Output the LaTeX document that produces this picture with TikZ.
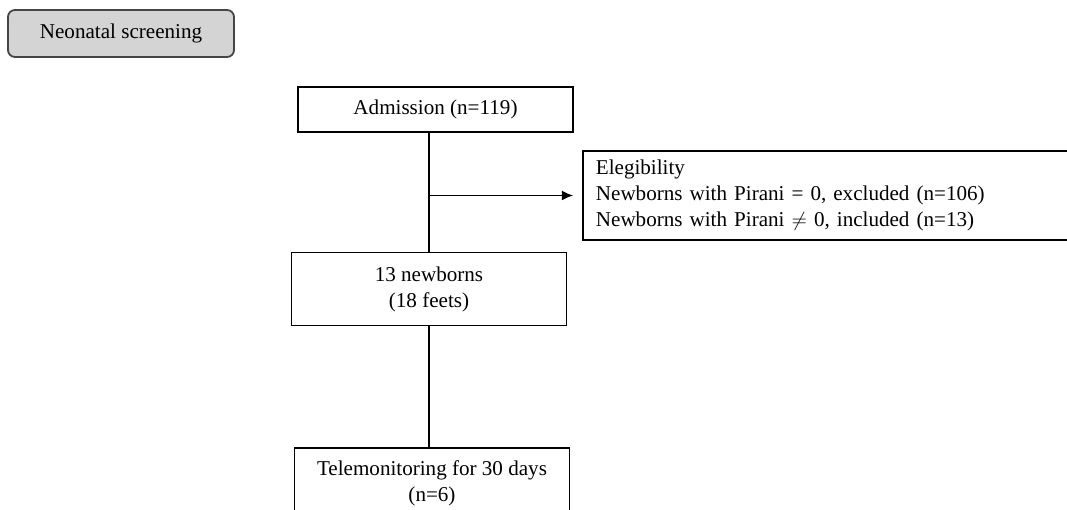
\documentclass[tikz,border=0pt]{standalone}
\usepackage{fontspec}
\setmainfont{Liberation Serif}
\usepackage{tikz}
\usetikzlibrary{arrows.meta, positioning}
\definecolor{boxgray}{RGB}{212,212,212}
\definecolor{edgegray}{RGB}{70,70,70}

\begin{document}
\begin{tikzpicture}[
  x=0.025cm, y=-0.025cm,
  every node/.style={font=\fontsize{15}{18.5}\selectfont},
  box/.style={rectangle, draw, line width=1.3pt, minimum width=6.875cm, align=center, inner sep=3pt},
  tag/.style={box, rounded corners=5pt, fill=boxgray, draw=edgegray, minimum width=5.65cm, minimum height=1.175cm},
  side/.style={rectangle, draw, line width=1.3pt, align=left, text width=11.8cm, inner xsep=0.325cm, minimum height=2.225cm},
  arr/.style={-{Latex[length=0.28cm, width=0.25cm]}, line width=1.3pt, shorten >=0.22cm},
  link/.style={line width=1.3pt}
]
\useasboundingbox (0,0) rectangle (1067,510);
\clip (0,0) rectangle (1067,510);
% label in the top left corner
\node[tag] (screen) at (121, 33.5) {Neonatal screening};
% main column
\node[box, minimum height=1.125cm] (adm) at (435.5, 109.5) {Admission (n=119)};
\node[box, minimum height=1.825cm] (newb) at (429, 289) {13 newborns\\(18 feets)};
\node[box, minimum height=1.75cm, anchor=north] (tele) at (432, 447) {Telemonitoring for 30 days\\(n=6)};
% exclusion box on the right (runs off the page)
\node[side, anchor=west] (elig) at (582, 195.5) {Elegibility\\Newborns with Pirani = 0, excluded (n=106)\\Newborns with Pirani $\neq$ 0, included (n=13)};

% vertical links
\draw[link] (newb.north |- adm.south) -- (newb.north);
\draw[link] (newb.south) -- (newb.south |- tele.north);
% side branch to the eligibility box
\draw[arr] (newb.north |- elig.west) -- (elig.west);
\end{tikzpicture}
\end{document}
